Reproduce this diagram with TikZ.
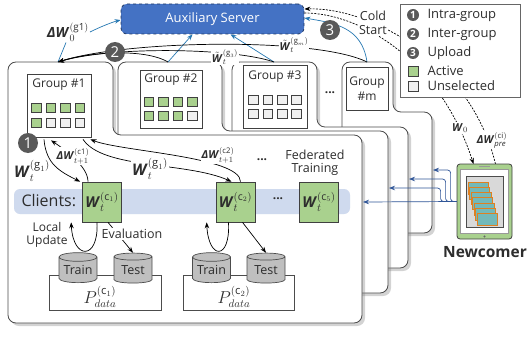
\documentclass[tikz,border=0pt]{standalone}
\usepackage{fontspec}
\setmainfont{Open Sans}
\usepackage{amsmath}
\usetikzlibrary{arrows.meta,shapes.geometric,shadows}
\definecolor{actgreen}{RGB}{169,209,142}
\definecolor{unsgray}{RGB}{240,240,240}
\definecolor{srvblue}{RGB}{68,114,196}
\definecolor{srvnavy}{RGB}{31,56,100}
\definecolor{upblue}{RGB}{38,120,178}
\definecolor{newblue}{RGB}{47,85,151}
\definecolor{bandblue}{RGB}{207,218,238}
\definecolor{badgegray}{RGB}{89,89,89}
\definecolor{txt}{RGB}{45,45,45}
\definecolor{cylgray}{RGB}{191,191,191}
\tikzstyle{panel}=[draw=black!70, fill=white, line width=.8pt, rounded corners=8pt, drop shadow={shadow xshift=3pt, shadow yshift=-3pt, opacity=.35}]
\tikzstyle{grpbox}=[draw=black!75, fill=white, line width=.7pt]
\tikzstyle{act}=[draw=black!75, fill=actgreen, minimum size=9.5pt, inner sep=0pt, line width=.6pt]
\tikzstyle{uns}=[act, fill=unsgray]
\tikzstyle{badge}=[circle, fill=badgegray, text=white, inner sep=0pt, minimum size=20pt, font=\fontsize{15}{15}\selectfont]
\tikzstyle{lbadge}=[badge, minimum size=12pt, font=\fontsize{10}{10}\selectfont\bfseries]
\tikzstyle{client}=[draw=black!75, fill=actgreen, minimum width=39pt, minimum height=40pt, line width=.7pt, inner sep=0pt, font=\fontsize{15}{15}\selectfont]
\tikzstyle{db}=[cylinder, shape border rotate=90, aspect=0.3, draw=black!70, fill=cylgray, minimum width=38pt, minimum height=30pt, inner sep=0pt, line width=.7pt, font=\fontsize{12.5}{13}\selectfont]
\tikzstyle{arr}=[-{Stealth[length=6pt,width=4.5pt]}, line width=.7pt]
\tikzstyle{uparr}=[arr, draw=upblue]
\tikzstyle{newarr}=[arr, draw=newblue, rounded corners=3pt]
\tikzstyle{cold}=[arr, dash pattern=on 2pt off 1.3pt]
\tikzstyle{wlab}=[font=\fontsize{16}{16}\selectfont, inner sep=1pt]
\tikzstyle{slab}=[font=\fontsize{11}{11}\selectfont, inner sep=1pt]
\newcommand{\bW}{\textbf{\textit{W}}}
\newcommand{\dW}{\textbf{\textit{ΔW}}}
\begin{document}
\begin{tikzpicture}[x=1pt, y=-1pt, font=\fontsize{12}{14}\selectfont, text=txt]
\useasboundingbox (0,0) rectangle (529,337);

\path[panel] (342,62) -- (393,62) -- (393,112) -- (432,112) -- (432,233) -- (342,233) -- cycle;
\path[panel] (232,62) -- (317,62) -- (317,127) -- (408,127) -- (408,268) -- (232,268) -- cycle;
\path[panel] (118,62) -- (222,62) -- (222,131) -- (388,131) -- (388,293) -- (118,293) -- cycle;
\path[panel] (8,62) -- (113,62) -- (113,135) -- (362,135) -- (362,323) -- (8,323) -- cycle;

\coordinate (top1) at (58,62);
\coordinate (top2) at (168,62);
\coordinate (top3) at (274,62);
\coordinate (topm) at (367,62);
\coordinate (e1) at (363,202);
\coordinate (e2) at (389,188);
\coordinate (e3) at (409,179);
\coordinate (e4) at (433,170);
\coordinate (w0in) at (473.5,164);
\coordinate (preout) at (495.5,164);

\node[grpbox, minimum width=64pt, minimum height=63pt] (g1box) at (59,105.5) {};
\node (g1lab) at (59,85) {Group \#1};
\foreach \c/\s in {0/act,1/act,2/act,3/act} \node[\s] at (36.5+14.5*\c,108) {};
\foreach \c/\s in {0/act,1/uns,2/uns,3/uns} \node[\s] at (36.5+14.5*\c,123) {};
\node[grpbox, minimum width=62pt, minimum height=58pt] (g2box) at (171,99) {};
\node (g2lab) at (171,80) {Group \#2};
\foreach \c/\s in {0/act,1/act,2/act,3/act} \node[\s] at (149+14.5*\c,102) {};
\foreach \c/\s in {0/act,1/act,2/act,3/uns} \node[\s] at (149+14.5*\c,116) {};
\node[grpbox, minimum width=64pt, minimum height=63pt] (g3box) at (275,96.5) {};
\node (g3lab) at (275,77) {Group \#3};
\foreach \c in {0,...,3} \node[uns] at (253.5+14.3*\c,100) {};
\foreach \c in {0,...,3} \node[uns] at (253.5+14.3*\c,114) {};
\node[grpbox, minimum width=42pt, minimum height=43pt, align=center, font=\fontsize{12}{15}\selectfont] (gmbox) at (367,88.5) {Group\\\#m};
\node (gdots) at (330,93) {\textbf{...}};

\node[draw=srvnavy, dashed, fill=srvblue, rounded corners=6pt, minimum width=183pt, minimum height=30pt, text=white, font=\fontsize{13}{13}\selectfont, line width=.8pt] (srv) at (212.5,19) {Auxiliary Server};

\draw[cold] ([yshift=6pt]srv.east) .. controls +(56,0) and +(-33.5,-104) .. (w0in);
\draw[cold] (preout) .. controls +(-25,-103) and +(66,-2) .. ([yshift=10pt]srv.east);
\node[align=center, fill=white, inner sep=1pt, font=\fontsize{12.5}{14}\selectfont] (coldst) at (373,23) {Cold\\Start};
\node[slab, fill=white] (w0lab) at (460,128) {$\bW_0$};
\node[slab, fill=white] (dwpre) at (492,140) {$\dW_{\textit{pre}}^{(\text{ci})}$};

\node[draw=black!60, fill=white, minimum width=120pt, minimum height=93pt, line width=.7pt] (leg) at (460,50.5) {};
\node[lbadge] (l1) at (413,15) {1};
\node[anchor=west, font=\fontsize{13}{13}\selectfont] (l1t) at (424,15) {Intra-group};
\node[lbadge] (l2) at (413,34) {2};
\node[anchor=west, font=\fontsize{13}{13}\selectfont] (l2t) at (424,34) {Inter-group};
\node[lbadge] (l3) at (413,53) {3};
\node[anchor=west, font=\fontsize{13}{13}\selectfont] (l3t) at (424,53) {Upload};
\node[act, minimum size=10pt] (l4) at (413,71) {};
\node[anchor=west, font=\fontsize{13}{13}\selectfont] (l4t) at (424,71) {Active};
\node[uns, minimum size=10pt] (l5) at (413,86) {};
\node[anchor=west, font=\fontsize{13}{13}\selectfont] (l5t) at (424,86) {Unselected};

\node[font=\fontsize{14}{14}\selectfont, inner sep=1pt] (dw0) at (68,32) {$\dW_{0}^{(\text{g1})}$};
\draw[upblue, line width=.7pt] (top1) -- ([xshift=-2pt]dw0.south);
\draw[uparr] (dw0.east) .. controls +(10,-5) and +(-8,2) .. ([yshift=-1pt]srv.west);
\draw[uparr] (top2) -- ([xshift=-20pt]srv.south);
\draw[uparr] (top3) -- ([xshift=18pt]srv.south);
\draw[uparr] (topm) .. controls +(-5,-35) and +(30,5) .. ([yshift=1pt]srv.east);

\draw[arr] (top2) .. controls +(-20,-12) and +(40,-12) .. (top1);
\draw[arr] (top3) .. controls +(-40,-14) and +(55,-16) .. (top1);
\draw[arr] (topm) .. controls +(-50,-25) and +(70,-22) .. (top1);
\node[slab, fill=white, inner sep=.5pt] (wg3) at (225,57) {$\tilde{\bW}_t^{(\text{g}_3)}$};
\node[slab, fill=white, inner sep=.5pt] (wgm) at (294,45) {$\tilde{\bW}_t^{(\text{g}_m)}$};
\node[badge] (b2) at (115,52) {2};
\node[badge] (b3) at (330,30) {3};

\fill[bandblue, rounded corners=6pt] (14,189) rectangle (350,214);
\node[anchor=west, font=\fontsize{16}{16}\selectfont] (clab) at (18,201) {Clients:};
\node[client] (c1) at (102,202) {$\bW_t^{(\text{c}_1)}$};
\node[client] (c2) at (235.5,202) {$\bW_t^{(\text{c}_2)}$};
\node[client] (c5) at (319,202) {$\bW_t^{(\text{c}_5)}$};
\node (cdots) at (278,199) {\textbf{...}};
\node (tdots) at (262,160) {\textbf{...}};
\node[align=center, font=\fontsize{12.5}{13}\selectfont] (fedtr) at (315,163) {Federated\\Training};

\draw[arr] ([xshift=-15pt,yshift=-2pt]g1box.south) .. controls +(2,25) and +(-20,-10) .. ([xshift=-2pt]c1.north west);
\draw[arr] ([xshift=-14pt]c1.north) .. controls +(0,-15) and +(15,10) .. ([xshift=-8pt,yshift=-3pt]g1box.south);
\draw[arr] ([xshift=24pt,yshift=-2pt]g1box.south) .. controls +(20,30) and +(-45,-20) .. ([xshift=-4pt]c2.north);
\draw[arr] ([xshift=5pt]c2.north) .. controls +(0,-25) and +(30,12) .. ([xshift=-1pt,yshift=-2pt]g1box.south east);
\node[wlab] (wg1a) at (32,171) {$\bW_t^{(\text{g}_1)}$};
\node[slab, fill=white] (dwc1) at (73,156) {$\dW_{t+1}^{(\text{c1})}$};
\node[wlab, fill=white] (wg1b) at (150,169) {$\bW_t^{(\text{g}_1)}$};
\node[slab, fill=white] (dwc2) at (218,155) {$\dW_{t+1}^{(\text{c2})}$};
\node[badge] (b1) at (28,143) {1};

\draw[black!70, line width=.7pt] (49,275) rectangle (161,310);
\draw[black!70, line width=.7pt] (183,275) rectangle (294,310);
\node[db] (train1) at (78,270) {Train};
\node[db] (test1) at (133,270) {Test};
\node[db] (train2) at (211.5,270) {Train};
\node[db] (test2) at (266,270) {Test};
\node[font=\fontsize{16}{16}\selectfont] (pd1) at (100,297) {$P_{data}^{(\text{c}_1)}$};
\node[font=\fontsize{16}{16}\selectfont] (pd2) at (234,297) {$P_{data}^{(\text{c}_2)}$};

\draw[arr] ([xshift=-5pt]c1.south) .. controls +(2,38) and +(2,38) .. ([xshift=-11pt]c1.south west);
\draw[arr] ([xshift=-7pt]c2.south) .. controls +(2,38) and +(2,38) .. ([xshift=-9pt]c2.south west);
\draw[arr] ([xshift=6pt]c1.south) -- (test1.north);
\draw[arr] ([xshift=7pt]c2.south) -- (test2.north);
\node[align=center, font=\fontsize{12}{13}\selectfont] (locup) at (47,235) {Local\\Update};
\node[fill=white, inner sep=1pt, font=\fontsize{12.5}{13}\selectfont] (evlab) at (132,234) {Evaluation};

\node[draw=black!75, fill=actgreen, rounded corners=3pt, minimum width=55pt, minimum height=75pt, line width=.8pt] (tab) at (484.5,201.5) {};
\node[fill=white, draw=black!40, minimum width=48pt, minimum height=64pt, inner sep=0pt] (scr) at (484.5,201) {};
\node[db, fill=black!15, minimum width=37pt, minimum height=51pt, aspect=.2] (newdb) at (484.5,202.5) {};
\foreach \k in {0,...,6} \draw[orange!50!brown, fill=teal!55, line width=.5pt] (468+1.5*\k,182+5.2*\k) rectangle +(20,12);
\draw[black!40, line width=.8pt] (479,166.5) -- (490,166.5);
\fill[black!60] (484.5,236.5) circle[radius=1.2];
\node[font=\fontsize{15.5}{17}\selectfont\bfseries] (newlab) at (485,252) {Newcomer};

\draw[newarr] (tab.west) -- (e1);
\draw[newarr] (tab.west) -- ++(-16,0) |- (e2);
\draw[newarr] (tab.west) -- ++(-11,0) |- (e3);
\draw[newarr] (tab.west) -- ++(-6,0) |- (e4);
\end{tikzpicture}
\end{document}
